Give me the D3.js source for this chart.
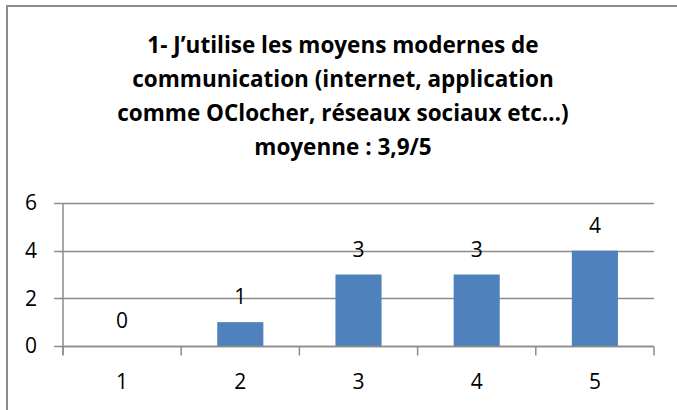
<!DOCTYPE html>
<html>
<head>
<meta charset="utf-8">
<script src="https://cdn.jsdelivr.net/npm/d3@7"></script>
<style>
  body { margin: 0; background: #fff; }
  svg text { font-family: "Open Sans", "Liberation Sans", sans-serif; }
</style>
</head>
<body>
<div id="chart"></div>
<script>
// data
var categories = ["1", "2", "3", "4", "5"];
var counts = [0, 1, 3, 3, 4];
var yTicks = [0, 2, 4, 6];
var titleLines = [
	"1- J\u2019utilise les moyens modernes de",
	"communication (internet, application",
	"comme OClocher, r\u00e9seaux sociaux etc\u2026)",
	"moyenne : 3,9/5"
];

var W = 677, H = 410;
var margin = {left: 63, right: 23, top: 203, bottom: 64};
var BAR_COLOR = "#4f81bd";
var GRID_COLOR = "#8c8c8c";

var svg = d3.select("#chart").append("svg")
	.attr("width", W)
	.attr("height", H);

// chart frame (only top and left edges show in the crop)
svg.append("path")
	.attr("d", "M7,411V6H678")
	.attr("fill", "none")
	.attr("stroke", "#8c8c8c")
	.attr("stroke-width", 2);

// title
svg.append("g").selectAll("text")
	.data(titleLines)
	.join("text")
	.attr("x", 343)
	.attr("y", function(d, i) { return 53 + i * 34; })
	.attr("text-anchor", "middle")
	.attr("font-size", "22.5px")
	.attr("font-weight", "bold")
	.attr("fill", "#000")
	.text(function(d) { return d; });

var x = d3.scaleBand()
	.domain(categories)
	.range([margin.left, W - margin.right])
	.paddingInner(0.61)
	.paddingOuter(0.305);

var y = d3.scaleLinear()
	.domain([0, 6])
	.range([H - margin.bottom, margin.top]);

// gridlines
svg.append("g").selectAll("line")
	.data(yTicks)
	.join("line")
	.attr("x1", margin.left - 9)
	.attr("x2", W - margin.right)
	.attr("y1", function(d) { return Math.round(y(d)) + 0.5; })
	.attr("y2", function(d) { return Math.round(y(d)) + 0.5; })
	.attr("stroke", GRID_COLOR)
	.attr("stroke-width", 1.5);

// y axis
var yAxis = svg.append("g")
	.attr("transform", "translate(" + margin.left + ",0)")
	.call(d3.axisLeft(y).tickValues(yTicks).tickFormat(d3.format("d")).tickSize(9).tickPadding(17));
yAxis.select(".domain").attr("stroke", GRID_COLOR).attr("stroke-width", 1.5)
	.attr("d", "M0," + y(6) + "V" + (y(0) + 9));
yAxis.selectAll(".tick line").remove();
yAxis.selectAll("text").attr("font-size", "21px").attr("fill", "#000")
	.style("font-family", "Open Sans, sans-serif");

// bars
svg.append("g").selectAll("rect")
	.data(counts)
	.join("rect")
	.attr("x", function(d, i) { return x(categories[i]); })
	.attr("width", x.bandwidth())
	.attr("y", function(d) { return y(d); })
	.attr("height", function(d) { return y(0) - y(d); })
	.attr("fill", BAR_COLOR);

// x axis
var step = x.step();
var xAxis = svg.append("g")
	.attr("transform", "translate(0," + (Math.round(y(0)) + 0.5) + ")");
xAxis.append("line")
	.attr("x1", margin.left).attr("x2", W - margin.right)
	.attr("stroke", GRID_COLOR).attr("stroke-width", 1.5);
xAxis.selectAll(".tk")
	.data(d3.range(categories.length + 1))
	.join("line")
	.attr("class", "tk")
	.attr("x1", function(i) { return margin.left + i * step; })
	.attr("x2", function(i) { return margin.left + i * step; })
	.attr("y2", 9)
	.attr("stroke", GRID_COLOR).attr("stroke-width", 1.5);
xAxis.selectAll("text")
	.data(categories)
	.join("text")
	.attr("x", function(d) { return x(d) + x.bandwidth() / 2; })
	.attr("y", 42)
	.attr("text-anchor", "middle")
	.attr("font-size", "21px")
	.attr("fill", "#000")
	.text(function(d) { return d; });

// data labels
svg.append("g").selectAll("text")
	.data(counts)
	.join("text")
	.attr("x", function(d, i) { return x(categories[i]) + x.bandwidth() / 2; })
	.attr("y", function(d) { return y(d) - 18; })
	.attr("text-anchor", "middle")
	.attr("font-size", "21px")
	.attr("fill", "#000")
	.text(function(d) { return d; });
</script>
</body>
</html>
